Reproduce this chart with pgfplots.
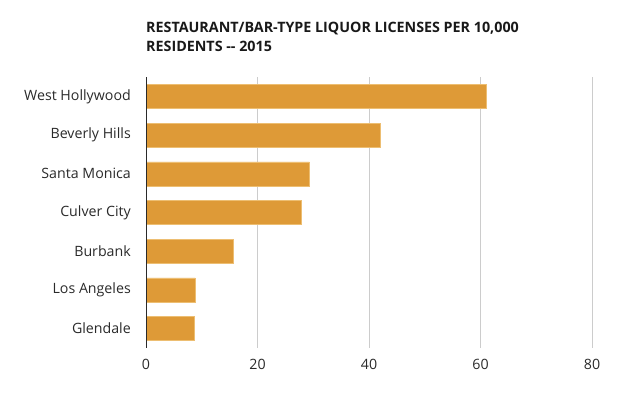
\documentclass[border=0pt]{standalone}
\usepackage{fontspec}
\setmainfont{Open Sans}
\usepackage{pgfplots}
\pgfplotsset{compat=1.18}
\definecolor{barc}{HTML}{DE9A37}
\definecolor{baredge}{HTML}{EDBE72}
\definecolor{gridc}{HTML}{CCCCCC}
\definecolor{txt}{HTML}{2A2A2A}
\begin{document}
\begin{tikzpicture}
\path[use as bounding box] (0,0) rectangle (626bp,-393bp);
\node[anchor=base west, inner sep=0pt, text=black!90, font=\fontsize{14.3bp}{17bp}\selectfont\bfseries] at (146bp,-32bp) {RESTAURANT/BAR-TYPE LIQUOR LICENSES PER 10,000};
\node[anchor=base west, inner sep=0pt, text=black!90, font=\fontsize{14.3bp}{17bp}\selectfont\bfseries] at (146bp,-51bp) {RESIDENTS -{}- 2015};
\begin{axis}[
  at={(146bp,-348bp)}, anchor=south west,
  scale only axis, width=446bp, height=271bp,
  xbar, bar width=24bp,
  xmin=0, xmax=80, ymin=-0.5, ymax=6.5,
  y dir=reverse,
  xtick={0,20,40,60,80},
  ytick={0,1,2,3,4,5,6},
  yticklabels={West Hollywood,Beverly Hills,Santa Monica,Culver City,Burbank,Los Angeles,Glendale},
  major tick length=0pt,
  axis line style={draw=none},
  xmajorgrids, grid style={gridc, line width=0.8bp},
  /pgf/number format/assume math mode=true,
  tick label style={font=\fontsize{14.2bp}{17bp}\selectfont, text=txt},
  yticklabel style={anchor=east, inner sep=0pt, xshift=-15bp},
  xticklabel style={anchor=north, inner sep=0pt, yshift=-11bp},
]
\addplot[fill=barc, draw=baredge, line width=0.5bp] coordinates {
(61.0,0) (42.0,1) (29.3,2) (27.8,3) (15.6,4) (8.8,5) (8.6,6)};
\draw[txt, line width=1bp] (axis cs:0,-0.5) -- (axis cs:0,6.5);
\end{axis}
\end{tikzpicture}
\end{document}
